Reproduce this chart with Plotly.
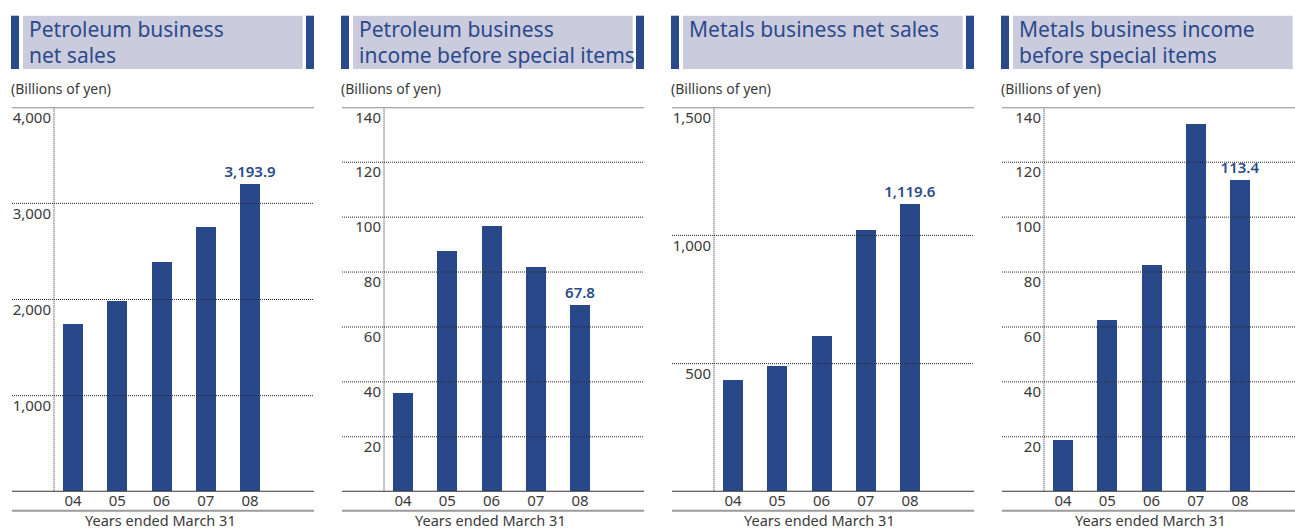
import plotly.graph_objects as go

W, H = 1295, 529

years = ["04", "05", "06", "07", "08"]
titles = [
    ["Petroleum business", "net sales"],
    ["Petroleum business", "income before special items"],
    ["Metals business net sales"],
    ["Metals business income", "before special items"],
]
petro_sales = [1745, 1984, 2390, 2754, 3193.9]
petro_income = [36.0, 87.7, 96.8, 81.9, 67.8]
metals_sales = [436, 491, 608, 1022, 1119.6]
metals_income = [18.7, 62.5, 82.5, 133.8, 113.4]
series = [petro_sales, petro_income, metals_sales, metals_income]
value_labels = ["3,193.9", "67.8", "1,119.6", "113.4"]
y_ticks = [
    [1000, 2000, 3000, 4000],
    [20, 40, 60, 80, 100, 120, 140],
    [500, 1000, 1500],
    [20, 40, 60, 80, 100, 120, 140],
]
y_ticktext = [
    ["1,000", "2,000", "3,000", "4,000"],
    ["20", "40", "60", "80", "100", "120", "140"],
    ["500", "1,000", "1,500"],
    ["20", "40", "60", "80", "100", "120", "140"],
]
y_max = [4000, 140, 1500, 140]
unit_label = "(Billions of yen)"
x_title = "Years ended March 31"

BAR = "#29488a"
TITLE_BG = "#cbcbde"
TITLE_FG = "#2b4a8a"
TXT = "#3a3a3a"
GRID = "#2a2a2a"
FONT = "Noto Sans"

PANEL_W = 330
PX_PER_CAT = 44.25
PLOT_TOP, PLOT_BOT = 107.3, 491.7

def px(x):
    return x / W

def py(y):
    return (H - y) / H

fig = go.Figure()
shapes = []
annotations = []

for k in range(4):
    o = PANEL_W * k
    sfx = "" if k == 0 else str(k + 1)
    xa, ya = "x" + sfx, "y" + sfx
    L = o + 54
    R = min(o + 314, W)
    xmin = -(73 - 54) / PX_PER_CAT
    xmax = xmin + (R - L) / PX_PER_CAT

    text = [""] * 4 + [value_labels[k]]
    fig.add_trace(go.Bar(
        x=list(range(5)), y=series[k], width=20 / PX_PER_CAT,
        marker=dict(color=BAR, line=dict(width=0)),
        text=text, textposition="outside", cliponaxis=False, constraintext="none",
        textfont=dict(family=FONT, size=15, color=TITLE_FG, weight=600),
        xaxis=xa, yaxis=ya, showlegend=False, hoverinfo="skip",
    ))

    fig.layout["xaxis" + sfx] = dict(
        domain=[px(L), px(R)], range=[xmin, xmax], anchor=ya,
        tickvals=list(range(5)), ticktext=years, showgrid=False,
        zeroline=False, showline=False, ticks="", automargin=False,
        ticklabelstandoff=-2,
        tickfont=dict(family=FONT, size=15, color=TXT), fixedrange=True,
    )
    fig.layout["yaxis" + sfx] = dict(
        domain=[py(PLOT_BOT), py(PLOT_TOP)], range=[0, y_max[k]], anchor=xa,
        tickvals=y_ticks[k], ticktext=y_ticktext[k], showgrid=False,
        zeroline=False, showline=False, ticks="", ticklabelshift=10,
        ticklabelstandoff=2, automargin=False,
        tickfont=dict(family=FONT, size=15, color=TXT), fixedrange=True,
    )

    # dotted gridlines (extending left into the label area)
    for t in y_ticks[k][:-1]:
        shapes.append(dict(type="line", xref="paper", yref=ya,
                           x0=px(o + 12), x1=px(R), y0=t, y1=t,
                           line=dict(color=GRID, width=1, dash="1px,1px")))
    # vertical dotted axis line
    shapes.append(dict(type="line", xref="paper", yref=ya,
                       x0=px(L), x1=px(L), y0=0, y1=y_max[k],
                       line=dict(color=GRID, width=1, dash="1px,1px")))
    # top rule
    shapes.append(dict(type="line", xref="paper", yref=ya,
                       x0=px(o + 12), x1=px(R), y0=y_max[k], y1=y_max[k],
                       line=dict(color="#8c8c8c", width=2)))
    # baseline
    shapes.append(dict(type="line", xref="paper", yref=ya,
                       x0=px(o + 12), x1=px(R), y0=0, y1=0,
                       line=dict(color="#333333", width=2)))
    # bottom rule
    shapes.append(dict(type="line", xref="paper", yref="paper",
                       x0=px(o + 12), x1=px(R), y0=py(510.7), y1=py(510.7),
                       line=dict(color="#9a9a9a", width=2)))

    # title box
    shapes.append(dict(type="rect", xref="paper", yref="paper",
                       x0=px(o + 11), x1=px(o + 19), y0=py(69), y1=py(15.7),
                       fillcolor=TITLE_FG, line=dict(width=0), layer="below"))
    shapes.append(dict(type="rect", xref="paper", yref="paper",
                       x0=px(o + 23), x1=px(min(o + 302.7, W)), y0=py(69), y1=py(15.7),
                       fillcolor=TITLE_BG, line=dict(width=0), layer="below"))
    if o + 306 < W:
        shapes.append(dict(type="rect", xref="paper", yref="paper",
                           x0=px(o + 306), x1=px(min(o + 314, W)), y0=py(69), y1=py(15.7),
                           fillcolor=TITLE_FG, line=dict(width=0), layer="below"))
    for i, line in enumerate(titles[k]):
        annotations.append(dict(xref="paper", yref="paper", x=px(o + 27), y=py(29 + 26 * i),
                                text=line, showarrow=False, xanchor="left", yanchor="middle",
                                font=dict(family=FONT, size=21, color=TITLE_FG)))
    annotations.append(dict(xref="paper", yref="paper", x=px(o + 9), y=py(88),
                            text=unit_label, showarrow=False, xanchor="left", yanchor="middle",
                            font=dict(family=FONT, size=14, color=TXT)))
    annotations.append(dict(xref="paper", yref="paper", x=px(o + 160), y=py(520),
                            text=x_title, showarrow=False, xanchor="center", yanchor="middle",
                            font=dict(family=FONT, size=14.5, color=TXT)))

fig.update_layout(
    width=W, height=H, autosize=False,
    margin=dict(l=0, r=0, t=0, b=0, pad=0, autoexpand=False),
    paper_bgcolor="white", plot_bgcolor="rgba(0,0,0,0)",
    shapes=shapes, annotations=annotations,
    font=dict(family=FONT, color=TXT), bargap=0,
)

fig.write_html("out.html", config={"displayModeBar": False})
